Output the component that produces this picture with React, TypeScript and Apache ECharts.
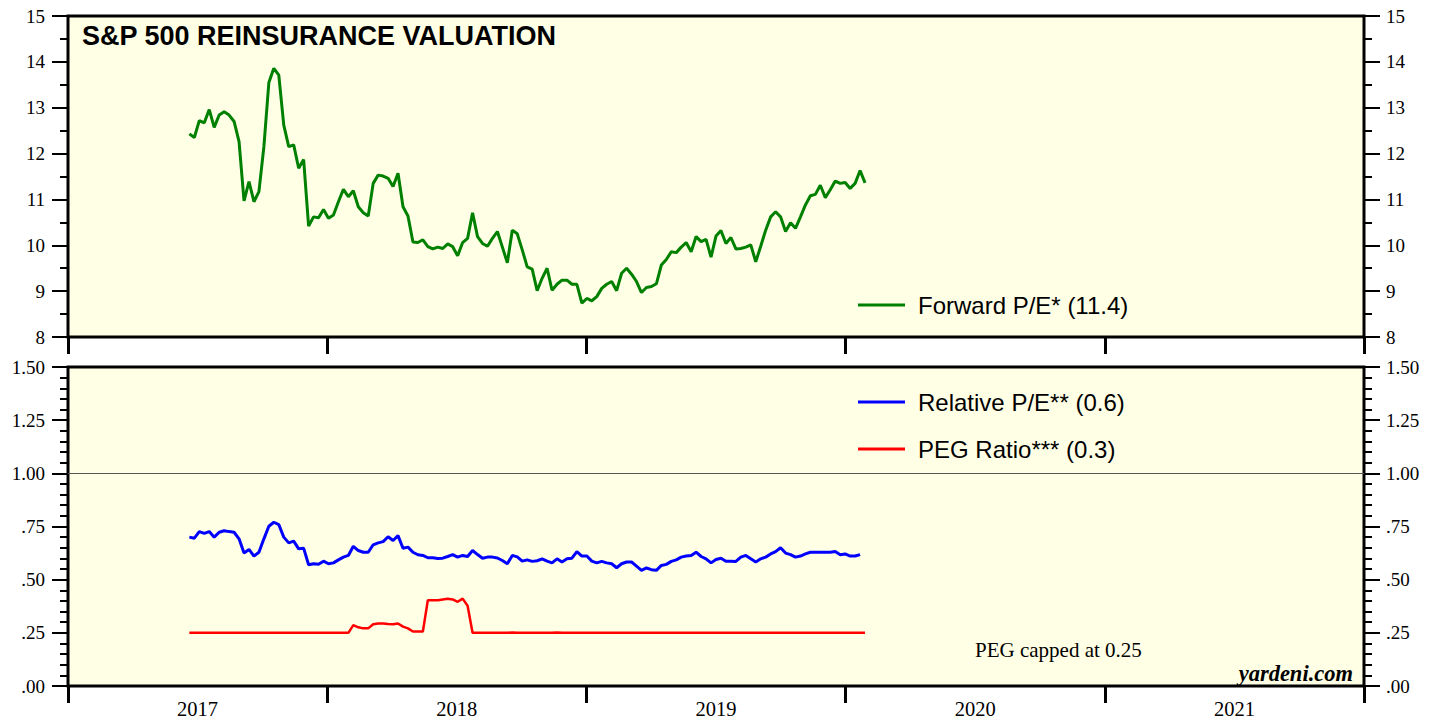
import React, { useEffect, useRef } from "react";
import * as echarts from "echarts";

const START_DATE = "2017-06-21";
const YEARS = ["2017", "2018", "2019", "2020", "2021"];

const forwardPE = [
  12.43, 12.35, 12.72, 12.67, 12.96, 12.57, 12.84, 12.91, 12.84, 12.7,
  12.26, 10.97, 11.39, 10.95, 11.17, 12.15, 13.55, 13.86, 13.71, 12.62,
  12.15, 12.19, 11.68, 11.87, 10.42, 10.62, 10.6, 10.78, 10.59, 10.66,
  10.95, 11.22, 11.06, 11.19, 10.84, 10.71, 10.64, 11.35, 11.53, 11.51,
  11.46, 11.28, 11.57, 10.84, 10.64, 10.07, 10.06, 10.12, 9.97, 9.92,
  9.96, 9.93, 10.03, 9.97, 9.77, 10.06, 10.15, 10.71, 10.19, 10.04,
  9.98, 10.15, 10.3, 9.96, 9.62, 10.33, 10.25, 9.9, 9.53, 9.48,
  9.01, 9.28, 9.5, 9.02, 9.15, 9.24, 9.24, 9.15, 9.15, 8.74,
  8.84, 8.79, 8.88, 9.06, 9.15, 9.21, 9.01, 9.39, 9.5, 9.37,
  9.21, 8.97, 9.08, 9.1, 9.16, 9.57, 9.69, 9.86, 9.84, 9.96,
  10.06, 9.86, 10.19, 10.08, 10.13, 9.74, 10.2, 10.32, 10.04, 10.17,
  9.92, 9.93, 9.96, 10.01, 9.64, 9.98, 10.33, 10.62, 10.73, 10.62,
  10.3, 10.49, 10.37, 10.62, 10.88, 11.08, 11.11, 11.31, 11.04, 11.21,
  11.4, 11.35, 11.37, 11.24, 11.35, 11.63, 11.36,
];

const relativePE = [
  0.7, 0.695, 0.726, 0.718, 0.726, 0.7, 0.723, 0.73, 0.726, 0.723,
  0.692, 0.625, 0.642, 0.611, 0.629, 0.692, 0.751, 0.77, 0.759, 0.7,
  0.673, 0.681, 0.645, 0.648, 0.57, 0.575, 0.572, 0.587, 0.575, 0.579,
  0.593, 0.606, 0.614, 0.657, 0.637, 0.629, 0.629, 0.664, 0.673, 0.679,
  0.702, 0.684, 0.707, 0.648, 0.653, 0.629, 0.617, 0.614, 0.603, 0.603,
  0.6, 0.601, 0.609, 0.618, 0.606, 0.614, 0.609, 0.637, 0.618, 0.601,
  0.606, 0.606, 0.602, 0.59, 0.575, 0.614, 0.607, 0.587, 0.593, 0.586,
  0.589, 0.598, 0.587, 0.579, 0.598, 0.583, 0.598, 0.601, 0.632, 0.611,
  0.611, 0.587, 0.579, 0.586, 0.579, 0.575, 0.556, 0.575, 0.583, 0.583,
  0.564, 0.544, 0.555, 0.547, 0.544, 0.567, 0.572, 0.586, 0.593, 0.606,
  0.611, 0.614, 0.629, 0.609, 0.598, 0.579, 0.595, 0.601, 0.587, 0.587,
  0.586, 0.606, 0.614, 0.598, 0.583, 0.598, 0.606, 0.621, 0.632, 0.65,
  0.625, 0.618, 0.606, 0.611, 0.621, 0.629, 0.629, 0.629, 0.629, 0.629,
  0.632, 0.617, 0.621, 0.611, 0.611, 0.618,
];

const pegRatio = [
  0.25, 0.25, 0.25, 0.25, 0.25, 0.25, 0.25, 0.25, 0.25, 0.25,
  0.25, 0.25, 0.25, 0.25, 0.25, 0.25, 0.25, 0.25, 0.25, 0.25,
  0.25, 0.25, 0.25, 0.25, 0.25, 0.25, 0.25, 0.25, 0.25, 0.25,
  0.25, 0.25, 0.25, 0.286, 0.276, 0.271, 0.271, 0.29, 0.294, 0.294,
  0.291, 0.29, 0.294, 0.279, 0.271, 0.256, 0.256, 0.256, 0.403, 0.403,
  0.403, 0.407, 0.41, 0.407, 0.396, 0.411, 0.377, 0.25, 0.25, 0.25,
  0.25, 0.25, 0.25, 0.25, 0.25, 0.252, 0.25, 0.25, 0.25, 0.25,
  0.25, 0.25, 0.25, 0.25, 0.252, 0.25, 0.25, 0.25, 0.25, 0.25,
  0.25, 0.25, 0.25, 0.25, 0.25, 0.25, 0.25, 0.25, 0.25, 0.25,
  0.25, 0.25, 0.25, 0.25, 0.25, 0.25, 0.25, 0.25, 0.25, 0.25,
  0.25, 0.25, 0.25, 0.25, 0.25, 0.25, 0.25, 0.25, 0.25, 0.25,
  0.25, 0.25, 0.25, 0.25, 0.25, 0.25, 0.25, 0.25, 0.25, 0.25,
  0.25, 0.25, 0.25, 0.25, 0.25, 0.25, 0.25, 0.25, 0.25, 0.25,
  0.25, 0.25, 0.25, 0.25, 0.25, 0.25, 0.25,
];

const WEEK = 7 * 86400000;
function weekly(values: number[]) {
  const t0 = new Date(START_DATE + "T00:00:00Z").getTime();
  return values.map((v, i) => [t0 + i * WEEK, v]);
}

const SERIF = '"Liberation Serif", "Times New Roman", serif';
const SANS = '"Liberation Sans", Arial, sans-serif';
const BG = "#FFFFE6";

export default function App() {
  const ref = useRef<HTMLDivElement>(null);
  useEffect(() => {
    if (!ref.current) return;
    const chart = echarts.init(ref.current, null, { renderer: "svg" });
    const tMin = new Date("2017-01-01T00:00:00Z").getTime();
    const tMax = new Date("2022-01-01T00:00:00Z").getTime();

    const tick = { show: true, length: 16, lineStyle: { color: "#000", width: 2 } };
    const minor = (n: number) => ({ show: true, splitNumber: n, length: 8, lineStyle: { color: "#000", width: 2 } });
    const lbl = (pos: "left" | "right") => ({ color: "#000", fontFamily: SERIF, fontSize: 19, margin: pos === "left" ? 23 : 22 });

    const fmtBottom = (v: number) => (v < 1 ? v.toFixed(2).slice(1) : v.toFixed(2));

    const yTop = (pos: "left" | "right") => ({
      type: "value", gridIndex: 0, position: pos, min: 8, max: 15, interval: 1,
      axisLine: { show: false }, axisTick: tick, minorTick: minor(2),
      splitLine: { show: false }, minorSplitLine: { show: false },
      axisLabel: lbl(pos),
    });
    const yBot = (pos: "left" | "right") => ({
      type: "value", gridIndex: 1, position: pos, min: 0, max: 1.5, interval: 0.25,
      axisLine: { show: false }, axisTick: tick, minorTick: minor(5),
      splitLine: { show: false }, minorSplitLine: { show: false },
      axisLabel: { ...lbl(pos), formatter: fmtBottom },
    });

    const xTime = (g: number) => ({
      type: "time", gridIndex: g, min: tMin, max: tMax, show: false,
    });
    const xCat = (g: number, labels: boolean) => ({
      type: "category", gridIndex: g, data: YEARS, boundaryGap: true, position: "bottom",
      axisLine: { show: false },
      axisTick: { show: true, length: 17, alignWithLabel: false, lineStyle: { color: "#000", width: 3 } },
      axisLabel: { show: labels, color: "#000", fontFamily: SERIF, fontSize: 20.5, margin: 12 },
      splitLine: { show: false },
    });

    chart.setOption({
      animation: false,
      backgroundColor: "#fff",
      grid: [
        { left: 68, top: 16, width: 1296, height: 321, show: true, backgroundColor: BG, borderColor: "#000", borderWidth: 3 },
        { left: 68, top: 367, width: 1296, height: 321, show: true, backgroundColor: BG, borderColor: "#000", borderWidth: 3 },
      ],
      xAxis: [xTime(0), xTime(1), xCat(0, false), xCat(1, true)],
      yAxis: [yTop("left"), yTop("right"), yBot("left"), yBot("right")],
      series: [
        {
          type: "line", name: "Forward P/E*", xAxisIndex: 0, yAxisIndex: 0,
          data: weekly(forwardPE), showSymbol: false, symbol: "none",
          lineStyle: { color: "#008000", width: 3 }, z: 5,
        },
        {
          type: "line", name: "Relative P/E**", xAxisIndex: 1, yAxisIndex: 2,
          data: weekly(relativePE), showSymbol: false, symbol: "none",
          lineStyle: { color: "#0000FF", width: 3 }, z: 5,
          markLine: {
            silent: true, symbol: "none", label: { show: false },
            lineStyle: { color: "#555", width: 1, type: "solid" },
            data: [{ yAxis: 1 }],
          },
        },
        {
          type: "line", name: "PEG Ratio***", xAxisIndex: 1, yAxisIndex: 2,
          data: weekly(pegRatio), showSymbol: false, symbol: "none",
          lineStyle: { color: "#FF0000", width: 2.5 }, z: 4,
        },
      ],
      graphic: [
        { type: "text", x: 82, y: 36, style: { text: "S&P 500 REINSURANCE VALUATION", font: `bold 27px ${SANS}`, fill: "#000", verticalAlign: "middle" } },
        { type: "line", shape: { x1: 858, y1: 305, x2: 905, y2: 305 }, style: { stroke: "#008000", lineWidth: 3 } },
        { type: "text", x: 918, y: 305, style: { text: "Forward P/E* (11.4)", font: `24px ${SANS}`, fill: "#000", verticalAlign: "middle" } },
        { type: "line", shape: { x1: 858, y1: 402, x2: 905, y2: 402 }, style: { stroke: "#0000FF", lineWidth: 3 } },
        { type: "text", x: 918, y: 402, style: { text: "Relative P/E** (0.6)", font: `24px ${SANS}`, fill: "#000", verticalAlign: "middle" } },
        { type: "line", shape: { x1: 858, y1: 449, x2: 905, y2: 449 }, style: { stroke: "#FF0000", lineWidth: 3 } },
        { type: "text", x: 918, y: 449, style: { text: "PEG Ratio*** (0.3)", font: `24px ${SANS}`, fill: "#000", verticalAlign: "middle" } },
        { type: "text", x: 975, y: 650, style: { text: "PEG capped at 0.25", font: `21px ${SERIF}`, fill: "#000", verticalAlign: "middle" } },
        { type: "text", x: 1353, y: 673, style: { text: "yardeni.com", font: `italic bold 22.5px ${SERIF}`, fill: "#000", verticalAlign: "middle", align: "right" } },
      ],
    });
    return () => chart.dispose();
  }, []);
  return <div ref={ref} style={{ position: "fixed", left: 0, top: 0, width: 1439, height: 719 }} />;
}
